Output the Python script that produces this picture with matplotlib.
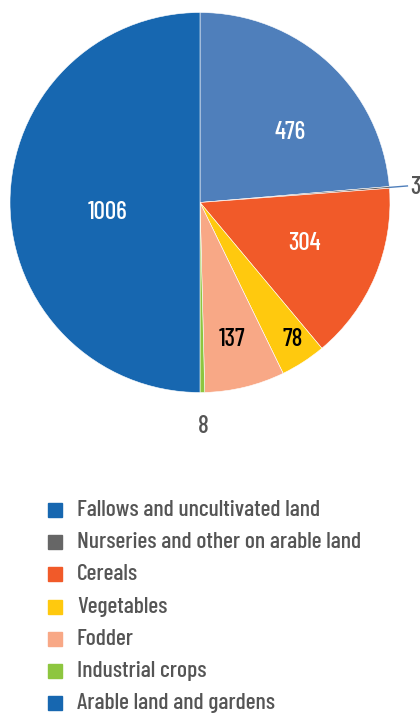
import numpy as np
import matplotlib.pyplot as plt
from matplotlib.patches import Rectangle

plt.rcParams['font.family'] = ['Barlow Condensed', 'DejaVu Sans']
plt.rcParams['font.weight'] = 'medium'

# data
labels = ["Fallows and uncultivated land", "Nurseries and other on arable land",
          "Cereals", "Vegetables", "Fodder", "Industrial crops", "Arable land and gardens"]
values = [476, 3, 304, 78, 137, 8, 1006]
slice_colors = ["#4f7fbb", "#666666", "#f15a29", "#ffc90e", "#f8a886", "#8dc63f", "#1767b0"]
legend_colors = ["#1767b0", "#666666", "#f15a29", "#ffc90e", "#f8a886", "#8dc63f", "#1767b0"]
label_colors = ["white", "#555555", "white", "black", "black", "#555555", "white"]

# label placement (radius fraction, angle tweak in deg)
lab_r = [0.60, 1.11, 0.59, 0.87, 0.74, 1.18, 0.49]
lab_da = [-9.5, -0.5, 1.3, 1.2, -0.6, 0.0, 6.2]

fig = plt.figure(figsize=(4.2, 7.16), dpi=100)
ax = fig.add_axes([10 / 420, 1 - 392.5 / 716, 380 / 420, 380 / 716])
wedges, _ = ax.pie(values, colors=slice_colors, startangle=90, counterclock=False,
                   radius=1, wedgeprops=dict(edgecolor="white", linewidth=0.4))
ax.set_xlim(-1, 1)
ax.set_ylim(-1, 1)
ax.axis("off")

for w, v, r, da, c in zip(wedges, values, lab_r, lab_da, label_colors):
    mid = np.deg2rad((w.theta1 + w.theta2) / 2 + da)
    x, y = r * np.cos(mid), r * np.sin(mid)
    ha = "center"
    if v == 3:
        # leader line for the tiny slice
        a = np.deg2rad((w.theta1 + w.theta2) / 2)
        ax.plot([np.cos(a), 1.095 * np.cos(a)], [np.sin(a), 1.095 * np.sin(a)],
                color="#4f7fbb", lw=1, clip_on=False)
        ha = "left"
    ax.text(x, y, str(v), ha=ha, va="center", color=c, fontsize=18, clip_on=False)

# legend
for i, (lab, col) in enumerate(zip(labels, legend_colors)):
    yc = 1 - (510 + i * 32.2) / 716
    fig.patches.append(Rectangle((48 / 420, yc - 7 / 716), 14 / 420, 14 / 716,
                                 transform=fig.transFigure, color=col))
    fig.text(77 / 420, yc, lab, ha="left", va="center", color="#555555", fontsize=17)

fig.savefig("out.png", dpi=100)
